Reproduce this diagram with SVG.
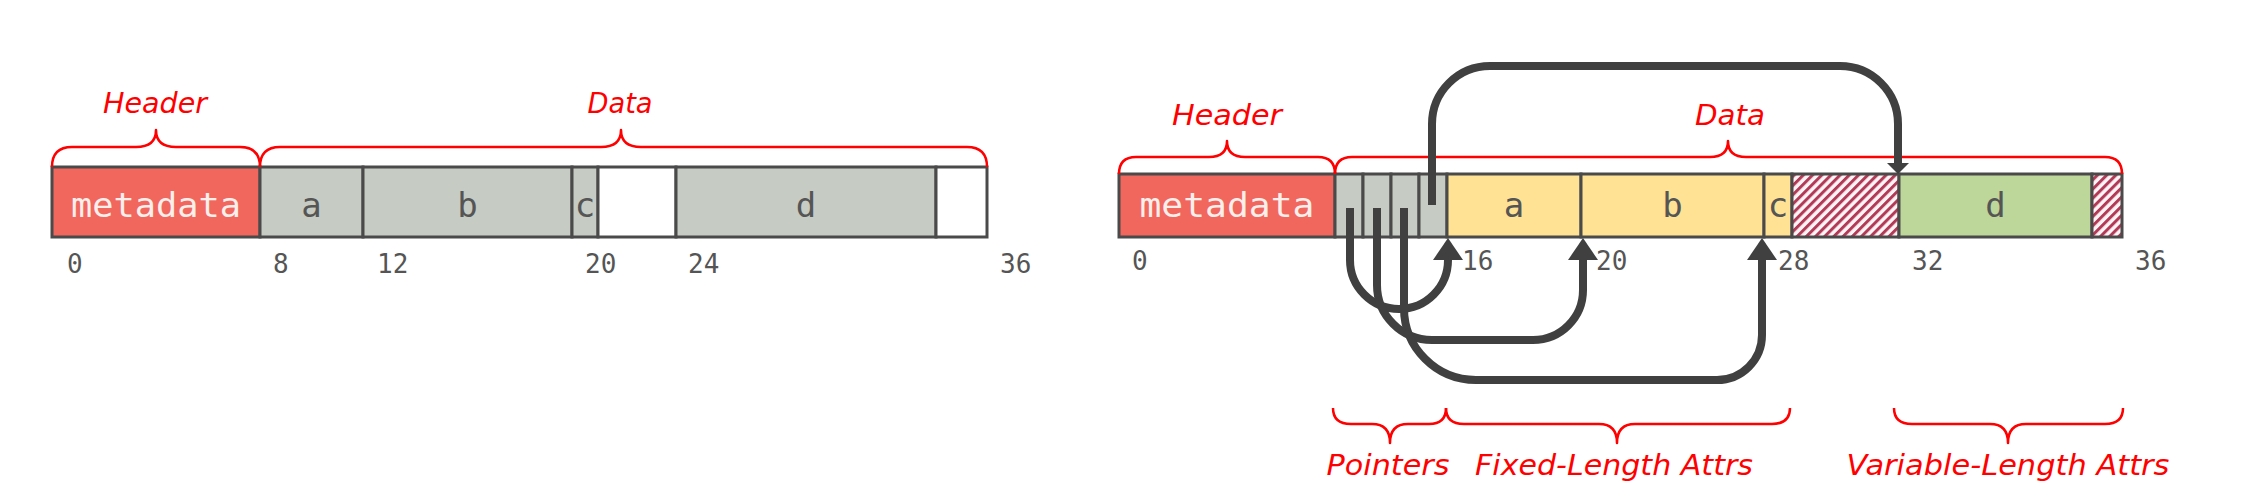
<svg xmlns="http://www.w3.org/2000/svg" width="2254" height="502" viewBox="0 0 2254 502">
<defs>
<style>
.cell{stroke:#4a4a4a;stroke-width:3}
.meta{fill:#f1665d}
.gray{fill:#c6cbc3}
.pad{fill:#ffffff}
.fix{fill:#ffe294}
.var{fill:#bdd69a}
.hatch{fill:url(#hatch)}
.mono{font-family:"DejaVu Sans Mono","Liberation Mono",monospace}
.lbl{font-size:34px;fill:#555555;text-anchor:middle}
.metaT{font-size:34px;fill:#fbefec;text-anchor:middle}
.num{font-size:26px;fill:#555555}
.brace{fill:none;stroke:#ff0000;stroke-width:2.5;stroke-linejoin:round}
.btxt{font-family:"DejaVu Sans",Verdana,sans-serif;font-style:italic;font-size:28px;fill:#ff0000;text-anchor:middle}
.arrow{fill:none;stroke:#404040;stroke-width:8}
</style>
<pattern id="hatch" width="6.5" height="8" patternUnits="userSpaceOnUse" patternTransform="rotate(45)">
<rect width="6.5" height="8" fill="#fff5f7"/>
<rect width="3" height="8" fill="#b23a56"/>
</pattern>
<marker id="ah" markerUnits="userSpaceOnUse" markerWidth="22" markerHeight="30" viewBox="0 0 22 30" refX="0" refY="15" orient="auto"><path d="M0,0 L22,15 L0,30 Z" fill="#404040"/></marker>
<marker id="ahs" markerUnits="userSpaceOnUse" markerWidth="11" markerHeight="22" viewBox="0 0 11 22" refX="0" refY="11" orient="auto"><path d="M0,0 L11,11 L0,22 Z" fill="#404040"/></marker>
</defs>
<rect width="2254" height="502" fill="#ffffff"/>

<!-- LEFT LAYOUT -->
<g id="left-tuple">
<g id="l-metadata"><rect class="cell meta" x="52" y="167" width="208" height="70"/><text class="mono metaT" x="156" y="217" textLength="170" lengthAdjust="spacingAndGlyphs">metadata</text></g>
<g id="l-a"><rect class="cell gray" x="260" y="167" width="103" height="70"/><text class="mono lbl" x="311.5" y="217">a</text></g>
<g id="l-b"><rect class="cell gray" x="363" y="167" width="209" height="70"/><text class="mono lbl" x="467.5" y="217">b</text></g>
<g id="l-c"><rect class="cell gray" x="572" y="167" width="26" height="70"/><text class="mono lbl" x="585" y="217">c</text></g>
<g id="l-pad1"><rect class="cell pad" x="598" y="167" width="78" height="70"/></g>
<g id="l-d"><rect class="cell gray" x="676" y="167" width="260" height="70"/><text class="mono lbl" x="806" y="217">d</text></g>
<g id="l-pad2"><rect class="cell pad" x="936" y="167" width="51" height="70"/></g>
</g>
<g id="left-offsets" class="mono num">
<text x="67" y="273">0</text><text x="273" y="273">8</text><text x="377" y="273">12</text><text x="585" y="273">20</text><text x="688" y="273">24</text><text x="1000" y="273">36</text>
</g>
<g id="left-braces">
<path class="brace" d="M52,167 Q52,147 72,147 H136 Q156,147 156,130 Q156,147 176,147 H240 Q260,147 260,167"/>
<path class="brace" d="M260,167 Q260,147 280,147 H601 Q621,147 621,130 Q621,147 641,147 H967 Q987,147 987,167"/>
<text class="btxt" x="155" y="113" textLength="104" lengthAdjust="spacingAndGlyphs">Header</text>
<text class="btxt" x="620" y="113" textLength="65" lengthAdjust="spacingAndGlyphs">Data</text>
</g>

<!-- RIGHT LAYOUT -->
<g id="right-tuple">
<g id="r-metadata"><rect class="cell meta" x="1119" y="174" width="216" height="63"/><text class="mono metaT" x="1227" y="217" textLength="175" lengthAdjust="spacingAndGlyphs">metadata</text></g>
<g id="r-ptr1"><rect class="cell gray" x="1335" y="174" width="28" height="63"/></g>
<g id="r-ptr2"><rect class="cell gray" x="1363" y="174" width="28" height="63"/></g>
<g id="r-ptr3"><rect class="cell gray" x="1391" y="174" width="28" height="63"/></g>
<g id="r-ptr4"><rect class="cell gray" x="1419" y="174" width="28" height="63"/></g>
<g id="r-a"><rect class="cell fix" x="1447" y="174" width="134" height="63"/><text class="mono lbl" x="1514" y="217">a</text></g>
<g id="r-b"><rect class="cell fix" x="1581" y="174" width="183" height="63"/><text class="mono lbl" x="1672.5" y="217">b</text></g>
<g id="r-c"><rect class="cell fix" x="1764" y="174" width="28" height="63"/><text class="mono lbl" x="1778" y="217">c</text></g>
<g id="r-hatch1"><rect class="cell hatch" x="1792" y="174" width="107" height="63"/></g>
<g id="r-d"><rect class="cell var" x="1899" y="174" width="193" height="63"/><text class="mono lbl" x="1995.5" y="217">d</text></g>
<g id="r-hatch2"><rect class="cell hatch" x="2092" y="174" width="30" height="63"/></g>
</g>
<g id="right-offsets" class="mono num">
<text x="1132" y="270">0</text><text x="1462" y="270">16</text><text x="1596" y="270">20</text><text x="1778" y="270">28</text><text x="1912" y="270">32</text><text x="2135" y="270">36</text>
</g>
<g id="right-braces">
<path class="brace" d="M1119,174 Q1119,157 1136,157 H1209 Q1227,157 1227,141 Q1227,157 1245,157 H1318 Q1335,157 1335,174"/>
<path class="brace" d="M1335,174 Q1335,157 1352,157 H1710 Q1728,157 1728,141 Q1728,157 1746,157 H2105 Q2122,157 2122,174"/>
<text class="btxt" x="1227" y="125" textLength="110" lengthAdjust="spacingAndGlyphs">Header</text>
<text class="btxt" x="1730" y="125" textLength="70" lengthAdjust="spacingAndGlyphs">Data</text>
<path class="brace" d="M1333,408 Q1333,424 1351,424 H1372 Q1390,424 1390,443 Q1390,424 1408,424 H1429 Q1446,424 1446,408"/>
<path class="brace" d="M1446,408 Q1446,424 1464,424 H1599 Q1617,424 1617,443 Q1617,424 1635,424 H1772 Q1790,424 1790,408"/>
<path class="brace" d="M1894,408 Q1894,424 1912,424 H1990 Q2008,424 2008,443 Q2008,424 2026,424 H2105 Q2123,424 2123,408"/>
<text class="btxt" x="1388" y="475" textLength="123" lengthAdjust="spacingAndGlyphs">Pointers</text>
<text class="btxt" x="1614" y="475" textLength="278" lengthAdjust="spacingAndGlyphs">Fixed-Length Attrs</text>
<text class="btxt" x="2008" y="475" textLength="323" lengthAdjust="spacingAndGlyphs">Variable-Length Attrs</text>
</g>

<g id="connectors">
<path class="arrow" marker-end="url(#ahs)" d="M1432,205 V124 A58,58 0 0 1 1490,66 H1840 A58,58 0 0 1 1898,124 V163"/>
<path class="arrow" marker-end="url(#ah)" d="M1350,208 V260 A49,49 0 0 0 1448,260"/>
<path class="arrow" marker-end="url(#ah)" d="M1377,208 V285 A55,55 0 0 0 1432,340 H1533 A50,50 0 0 0 1583,290 V260"/>
<path class="arrow" marker-end="url(#ah)" d="M1404,208 V308 A72,72 0 0 0 1476,380 H1717 A45,45 0 0 0 1762,335 V260"/>
</g>
</svg>
